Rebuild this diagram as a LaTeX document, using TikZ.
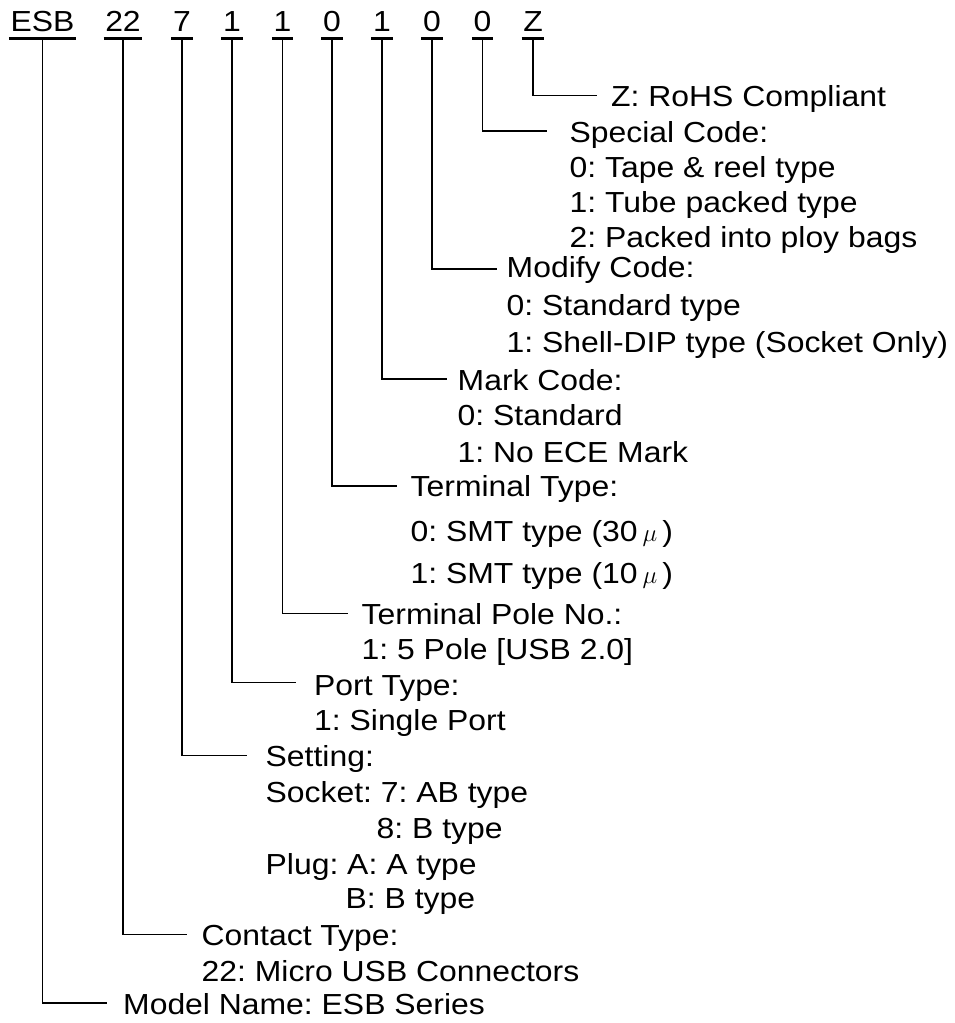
\documentclass[tikz,border=0pt]{standalone}
\usepackage{fontspec}
\setmainfont{Liberation Sans}[FakeStretch=1.1]
\frenchspacing
\begin{document}
\begin{tikzpicture}[x=1pt,y=-1pt,
  code/.style={anchor=base,inner xsep=1.5pt,inner ysep=0pt,font=\fontsize{29}{35}\selectfont},
  txt/.style={anchor=base west,inner sep=0pt,font=\fontsize{29}{35}\selectfont},
  ul/.style={line width=2.6pt},
  conn/.style={line width=1.5pt}]
\useasboundingbox (0,0) rectangle (954,1023);
% code letters
\node[code] (c0) at (42.5,31) {ESB};
\node[code] (c1) at (123,31) {22};
\node[code] (c2) at (182,31) {7};
\node[code] (c3) at (232,31) {1};
\node[code] (c4) at (282.5,31) {1};
\node[code] (c5) at (332,31) {0};
\node[code] (c6) at (382,31) {1};
\node[code] (c7) at (432,31) {0};
\node[code] (c8) at (482.5,31) {0};
\node[code] (c9) at (533,31) {Z};
\foreach \i in {0,...,9}{
  \draw[ul] ([yshift=-7.3pt]c\i.base west) -- ([yshift=-7.3pt]c\i.base east);
}
% branch ends
\coordinate (e9) at (597,95.7);
\coordinate (e8) at (547,131);
\coordinate (e7) at (497,269);
\coordinate (e6) at (447,379);
\coordinate (e5) at (397,486);
\coordinate (e4) at (348,613.3);
\coordinate (e3) at (296,682.3);
\coordinate (e2) at (247,755.7);
\coordinate (e1) at (187,934.3);
\coordinate (e0) at (107,1003);
\foreach \i in {0,...,9}{
  \draw[conn] ([yshift=-8pt]c\i.base) |- (e\i);
}
% texts
\node[txt] (t9a) at (611,106.7) {Z: RoHS Compliant};

\node[txt] (t8a) at (569.5,142) {Special Code:};
\node[txt] (t8b) at (569.5,177) {0: Tape \& reel type};
\node[txt] (t8c) at (569.5,212) {1: Tube packed type};
\node[txt] (t8d) at (569.5,247) {2: Packed into ploy bags};

\node[txt] (t7a) at (506.5,277.3) {Modify Code:};
\node[txt] (t7b) at (506.5,315) {0: Standard type};
\node[txt] (t7c) at (506.5,352.3) {1: Shell-DIP type (Socket Only)};

\node[txt] (t6a) at (457.5,390) {Mark Code:};
\node[txt] (t6b) at (457.5,425) {0: Standard};
\node[txt] (t6c) at (457.5,462) {1: No ECE Mark};

\node[txt] (t5a) at (410.5,496) {Terminal Type:};
\node[txt] (t5b) at (410.5,541.7) {0: SMT type (30\hspace{5pt}$\mu$\hspace{5pt})};
\node[txt] (t5c) at (410.5,583) {1: SMT type (10\hspace{5pt}$\mu$\hspace{5pt})};

\node[txt] (t4a) at (361.5,624) {Terminal Pole No.:};
\node[txt] (t4b) at (361.5,659) {1: 5 Pole [USB 2.0]};

\node[txt] (t3a) at (314,695) {Port Type:};
\node[txt] (t3b) at (314,730) {1: Single Port};

\node[txt] (t2a) at (265.5,766.7) {Setting:};
\node[txt] (t2b) at (265.5,802.7) {Socket: 7: AB type};
\node[txt] (t2c) at (376.5,838.3) {8: B type};
\node[txt] (t2d) at (265.5,874.3) {Plug: A: A type};
\node[txt] (t2e) at (345.5,908.3) {B: B type};

\node[txt] (t1a) at (201.5,945) {Contact Type:};
\node[txt] (t1b) at (201.5,981.7) {22: Micro USB Connectors};

\node[txt] (t0a) at (123,1014) {Model Name: ESB Series};
\end{tikzpicture}
\end{document}
